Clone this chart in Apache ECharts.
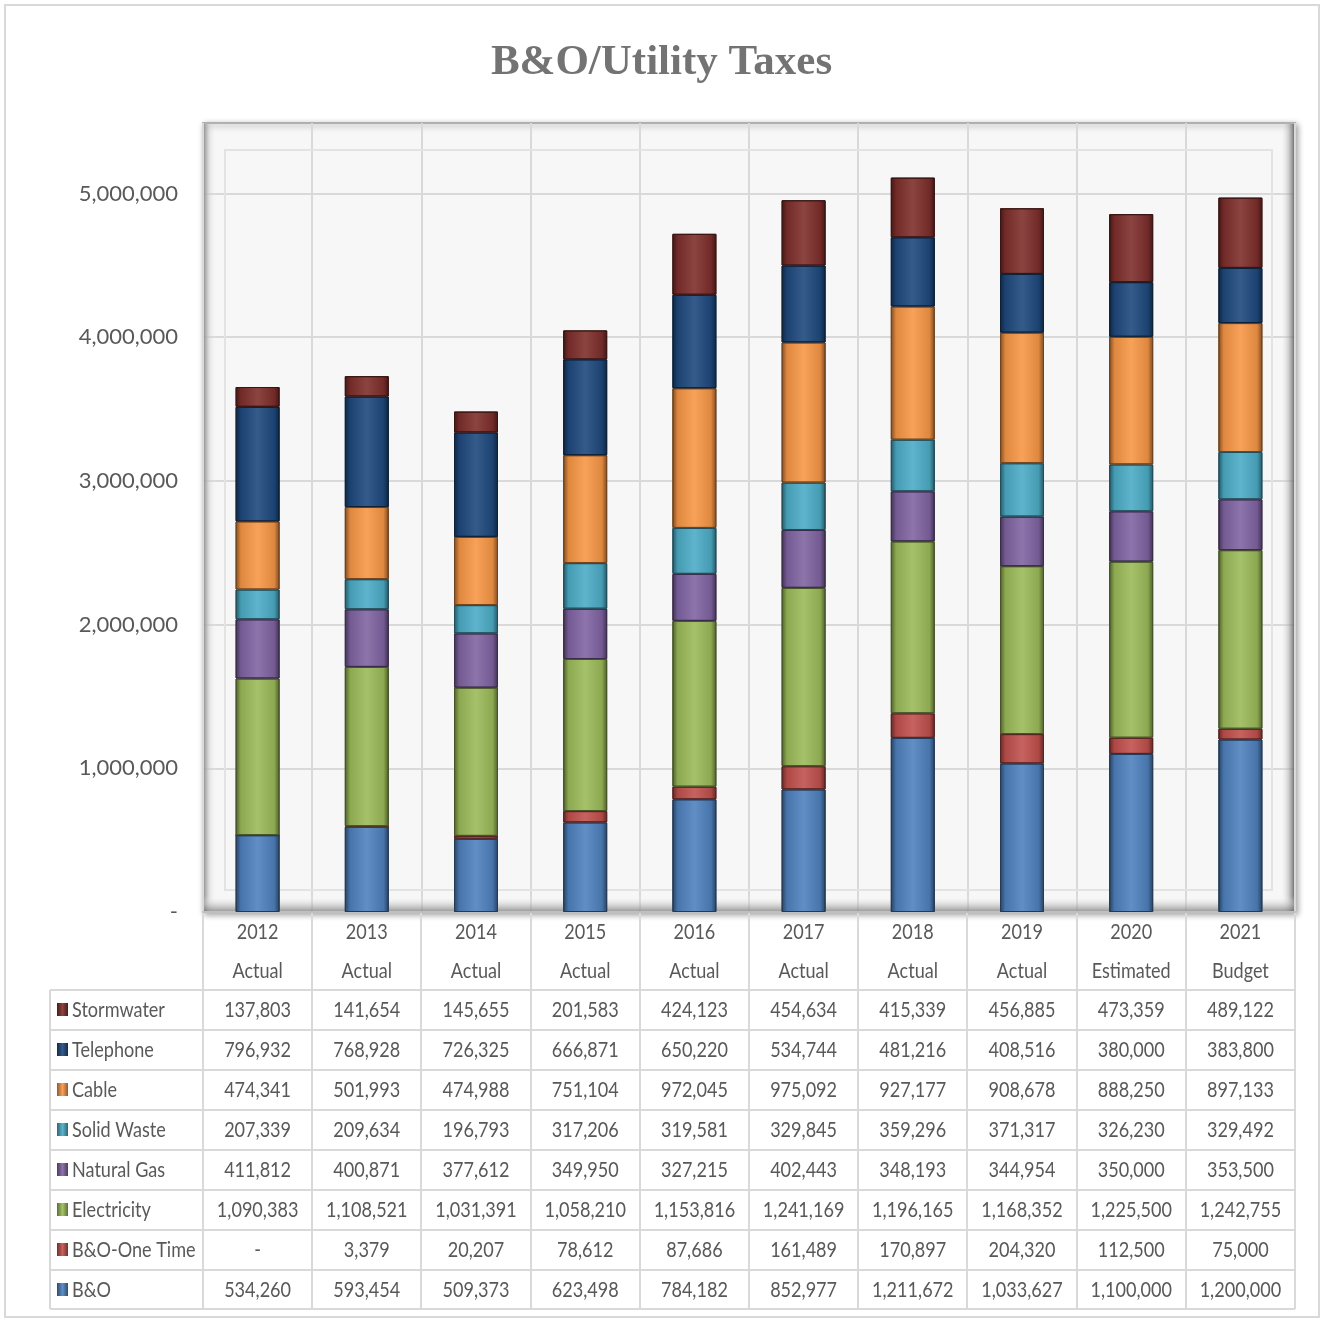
<!DOCTYPE html>
<html>
<head>
<meta charset="utf-8">
<script src="https://cdn.jsdelivr.net/npm/echarts@6/dist/echarts.min.js"></script>
<style>
	html, body { margin: 0; padding: 0; background: #fff; }
	#main { width: 1323px; height: 1320px; }
</style>
</head>
<body>
<div id="main"></div>
<script>
// data
var years = ['2012', '2013', '2014', '2015', '2016', '2017', '2018', '2019', '2020', '2021'];
var kinds = ['Actual', 'Actual', 'Actual', 'Actual', 'Actual', 'Actual', 'Actual', 'Actual', 'Estimated', 'Budget'];
var yTicks = [0, 1000000, 2000000, 3000000, 4000000, 5000000];

var bo = [534260, 593454, 509373, 623498, 784182, 852977, 1211672, 1033627, 1100000, 1200000];
var boOneTime = [0, 3379, 20207, 78612, 87686, 161489, 170897, 204320, 112500, 75000];
var electricity = [1090383, 1108521, 1031391, 1058210, 1153816, 1241169, 1196165, 1168352, 1225500, 1242755];
var naturalGas = [411812, 400871, 377612, 349950, 327215, 402443, 348193, 344954, 350000, 353500];
var solidWaste = [207339, 209634, 196793, 317206, 319581, 329845, 359296, 371317, 326230, 329492];
var cable = [474341, 501993, 474988, 751104, 972045, 975092, 927177, 908678, 888250, 897133];
var telephone = [796932, 768928, 726325, 666871, 650220, 534744, 481216, 408516, 380000, 383800];
var stormwater = [137803, 141654, 145655, 201583, 424123, 454634, 415339, 456885, 473359, 489122];

// stacking order, bottom first
var seriesDefs = [
	{ name: 'B&O', data: bo, color: '#4F81BD' },
	{ name: 'B&O-One Time', data: boOneTime, color: '#C0504D' },
	{ name: 'Electricity', data: electricity, color: '#9BBB59' },
	{ name: 'Natural Gas', data: naturalGas, color: '#8064A2' },
	{ name: 'Solid Waste', data: solidWaste, color: '#4BACC6' },
	{ name: 'Cable', data: cable, color: '#F79646' },
	{ name: 'Telephone', data: telephone, color: '#1F497D' },
	{ name: 'Stormwater', data: stormwater, color: '#7F2F2C' }
];

var textColor = '#595959';
var font = 'Lato, "Open Sans", sans-serif';
var narrow = 0.86; // squeeze Lato toward the narrow table font

function shade(hex, f) {
	var n = parseInt(hex.slice(1), 16);
	var r = (n >> 16) & 255, g = (n >> 8) & 255, b = n & 255;
	if (f < 0) {
		r = Math.round(r * (1 + f)); g = Math.round(g * (1 + f)); b = Math.round(b * (1 + f));
	} else {
		r = Math.round(r + (255 - r) * f); g = Math.round(g + (255 - g) * f); b = Math.round(b + (255 - b) * f);
	}
	return 'rgb(' + r + ',' + g + ',' + b + ')';
}

function fmt(v) {
	return v === 0 ? '-' : v.toLocaleString('en-US');
}

var chart = echarts.init(document.getElementById('main'));

var series = seriesDefs.map(function(s) {
	return {
		name: s.name,
		type: 'bar',
		stack: 'total',
		barWidth: 44,
		z: 5,
		data: s.data,
		itemStyle: {
			color: new echarts.graphic.LinearGradient(0, 0, 1, 0, [
				{ offset: 0, color: shade(s.color, -0.5) },
				{ offset: 0.12, color: shade(s.color, -0.1) },
				{ offset: 0.5, color: shade(s.color, 0.1) },
				{ offset: 0.88, color: shade(s.color, -0.1) },
				{ offset: 1, color: shade(s.color, -0.5) }
			]),
			borderColor: shade(s.color, -0.55),
			borderWidth: 1
		}
	};
});

var gridL = 203, gridR = 28, gridT = 123, gridB = 408;

chart.setOption({
	animation: false,
	title: {
		text: 'B&O/Utility Taxes',
		left: 'center',
		top: 36,
		textStyle: {
			fontFamily: '"Liberation Serif", "DejaVu Serif", serif',
			fontWeight: 'bold',
			fontSize: 43,
			color: '#737373'
		}
	},
	grid: {
		left: gridL,
		right: gridR,
		top: gridT,
		bottom: gridB,
		show: true,
		backgroundColor: '#f7f7f7',
		borderColor: '#b0b0b0',
		borderWidth: 2,
		shadowColor: 'rgba(0,0,0,0.35)',
		shadowBlur: 6,
		shadowOffsetX: 2,
		shadowOffsetY: 2
	},
	xAxis: {
		type: 'category',
		data: years,
		axisLine: { show: true, lineStyle: { color: '#bfbfbf', width: 2 } },
		axisTick: { show: false },
		splitLine: { show: true, interval: 0, lineStyle: { color: '#d9d9d9', width: 2 } },
		axisLabel: { show: false }
	},
	yAxis: {
		type: 'value',
		min: yTicks[0],
		max: 5490000,
		interval: yTicks[1] - yTicks[0],
		axisLine: { show: false },
		axisTick: { show: false },
		splitLine: { show: true, showMaxLine: false, lineStyle: { color: '#d9d9d9', width: 2 } },
		axisLabel: {
			showMaxLabel: false,
			margin: 25,
			color: textColor,
			fontFamily: font,
			fontSize: 22,
			formatter: function(v) {
				return v === 0 ? '-' : v.toLocaleString('en-US');
			}
		}
	},
	series: series
});

// data table under the axis, built from the same arrays
var graphics = [];
graphics.push({
	type: 'rect',
	shape: { x: 5, y: 5, width: 1314, height: 1312 },
	style: { fill: 'none', stroke: '#d9d9d9', lineWidth: 2 },
	z: -10
});
// 3D walls of the plot box
graphics.push({
	type: 'rect',
	shape: { x: 204, y: 124, width: 14, height: 787 },
	style: {
		fill: new echarts.graphic.LinearGradient(0, 0, 1, 0, [
			{ offset: 0, color: 'rgba(90,90,90,0.55)' },
			{ offset: 0.4, color: 'rgba(200,200,200,0.3)' },
			{ offset: 1, color: 'rgba(255,255,255,0)' }
		])
	},
	z: 1
});
graphics.push({
	type: 'rect',
	shape: { x: 1280, y: 124, width: 14, height: 787 },
	style: {
		fill: new echarts.graphic.LinearGradient(0, 0, 1, 0, [
			{ offset: 0, color: 'rgba(255,255,255,0)' },
			{ offset: 0.6, color: 'rgba(170,170,170,0.5)' },
			{ offset: 1, color: 'rgba(70,70,70,0.7)' }
		])
	},
	z: 1
});
graphics.push({
	type: 'rect',
	shape: { x: 204, y: 896, width: 1090, height: 15 },
	style: {
		fill: new echarts.graphic.LinearGradient(0, 0, 0, 1, [
			{ offset: 0, color: 'rgba(255,255,255,0)' },
			{ offset: 0.6, color: 'rgba(180,180,180,0.5)' },
			{ offset: 1, color: 'rgba(110,110,110,0.6)' }
		])
	},
	z: 1
});
// inner back wall
graphics.push({
	type: 'rect',
	shape: { x: 225, y: 150, width: 1047, height: 740 },
	style: { fill: 'none', stroke: '#e3e3e3', lineWidth: 2 },
	z: 1
});

var plotRight = 1323 - gridR;
var tableLeft = 50;
var rowTop = 990;
var rowH = 40;
var rows = seriesDefs.slice().reverse();
var tableBottom = rowTop + rows.length * rowH - 1;

function cellText(txt, x, y, align) {
	return {
		type: 'text',
		x: x,
		y: y,
		scaleX: narrow,
		style: {
			text: txt,
			fill: textColor,
			font: '21px ' + font,
			verticalAlign: 'middle',
			align: align
		}
	};
}

// vertical lines
var colW = (plotRight - gridL) / years.length;
for (var c = 0; c <= years.length; c++) {
	var x = Math.round(gridL + c * colW);
	graphics.push({
		type: 'line',
		shape: { x1: x, y1: 912, x2: x, y2: tableBottom },
		style: { stroke: '#d9d9d9', lineWidth: 2 }
	});
}
graphics.push({
	type: 'line',
	shape: { x1: tableLeft, y1: rowTop, x2: tableLeft, y2: tableBottom },
	style: { stroke: '#d9d9d9', lineWidth: 2 }
});
// horizontal lines
for (var r = 0; r <= rows.length; r++) {
	var y = r === rows.length ? tableBottom : rowTop + r * rowH;
	graphics.push({
		type: 'line',
		shape: { x1: tableLeft, y1: y, x2: plotRight, y2: y },
		style: { stroke: '#d9d9d9', lineWidth: 2 }
	});
}

// header: year and kind
years.forEach(function(yr, i) {
	var px = chart.convertToPixel({ xAxisIndex: 0 }, i);
	graphics.push(cellText(yr, px, 932, 'center'));
	graphics.push(cellText(kinds[i], px, 971, 'center'));
});

rows.forEach(function(s, r) {
	var cy = rowTop + r * rowH + rowH / 2;
	graphics.push({
		type: 'rect',
		shape: { x: 57, y: cy - 7, width: 11, height: 13 },
		style: {
			fill: new echarts.graphic.LinearGradient(0, 0, 1, 0, [
				{ offset: 0, color: shade(s.color, -0.4) },
				{ offset: 0.5, color: shade(s.color, 0.1) },
				{ offset: 1, color: shade(s.color, -0.4) }
			])
		}
	});
	graphics.push(cellText(s.name, 72, cy, 'left'));
	s.data.forEach(function(v, i) {
		var px = chart.convertToPixel({ xAxisIndex: 0 }, i);
		graphics.push(cellText(fmt(v), px, cy, 'center'));
	});
});

chart.setOption({ graphic: graphics });
</script>
</body>
</html>
